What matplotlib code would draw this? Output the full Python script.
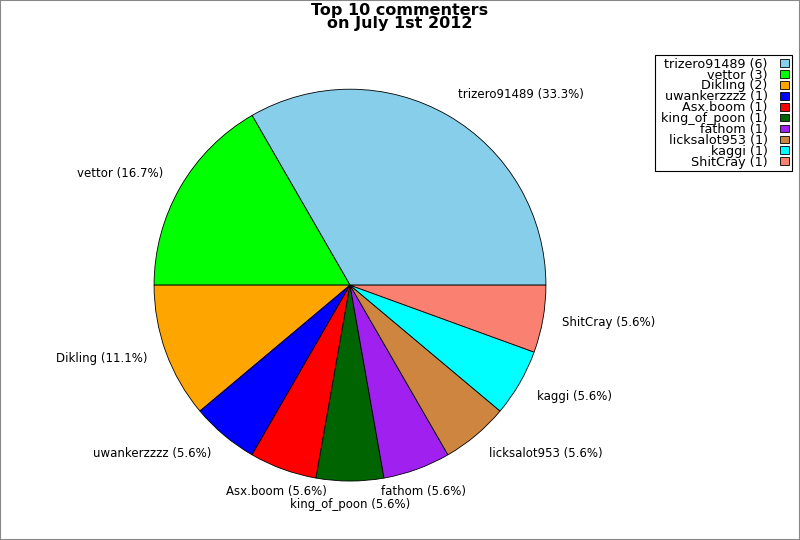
import matplotlib
matplotlib.use("Agg")
import numpy as np
import matplotlib.pyplot as plt
from matplotlib.patches import Rectangle
from matplotlib.legend_handler import HandlerPatch
from matplotlib.transforms import ScaledTranslation

names = ["trizero91489", "vettor", "Dikling", "uwankerzzzz", "Asx.boom",
         "king_of_poon", "fathom", "licksalot953", "kaggi", "ShitCray"]
counts = [6, 3, 2, 1, 1, 1, 1, 1, 1, 1]
colors = ["#87CEEB", "#00FF00", "#FFA500", "#0000FF", "#FF0000",
          "#006400", "#A020F0", "#CD853F", "#00FFFF", "#FA8072"]

total = sum(counts)
labels = ["%s (%.1f%%)" % (n, 100.0 * c / total) for n, c in zip(names, counts)]
# leading space only widens the right-aligned column (extra left padding)
leg_labels = [" %s (%d)" % (n, c) for n, c in zip(names, counts)]

fig = plt.figure(figsize=(8, 5.4), dpi=100)
fig.patches.append(Rectangle((0, 0), 1, 1, transform=fig.transFigure,
                             fill=False, edgecolor="#888888", linewidth=1.5))
ax = fig.add_axes([0.13125, 0.0185, 0.6125, 0.907])

wedges, texts = ax.pie(counts, labels=labels, colors=colors, startangle=0,
                       counterclock=True, labeldistance=1.1,
                       wedgeprops=dict(edgecolor="black", linewidth=0.6),
                       textprops=dict(fontsize=8.5))
ax.set_aspect("equal")

# label alignment like the original: centred near the bottom, pushed off vertically
down = ScaledTranslation(0, -0.035, fig.dpi_scale_trans)
for w, t in zip(wedges, texts):
    a = np.deg2rad((w.theta1 + w.theta2) / 2.0)
    c, s = np.cos(a), np.sin(a)
    if abs(c) < 0.4:
        t.set_ha("center")
    if s > 0.2:
        t.set_va("baseline")
    elif s < -0.4:
        t.set_transform(t.get_transform() + down)

fig.suptitle("Top 10 commenters\non July 1st 2012", fontsize=11.5,
             fontweight="bold", y=0.995, linespacing=0.88)


def small_box(legend, orig_handle, xdescent, ydescent, width, height, fontsize):
    # narrow swatch at the left of the handle box, leaves a gap to the frame
    return Rectangle((-xdescent, -ydescent), 6.5, height)


leg = fig.legend(wedges, leg_labels, loc="upper right",
                 bbox_to_anchor=(0.99, 0.898), fontsize=9.2, markerfirst=False,
                 labelspacing=-0.165, handlelength=0.77, handleheight=0.55,
                 handletextpad=0.94, borderpad=0.2, borderaxespad=0,
                 fancybox=False, edgecolor="black", framealpha=1,
                 alignment="right",
                 handler_map={w: HandlerPatch(patch_func=small_box) for w in wedges})
leg.get_frame().set_linewidth(0.8)
for t in leg.get_texts():
    t.set_ha("right")
vp = leg._legend_box._children[1]
for col in vp._children:
    col.align = "right"

fig.savefig("out.png", dpi=100)
